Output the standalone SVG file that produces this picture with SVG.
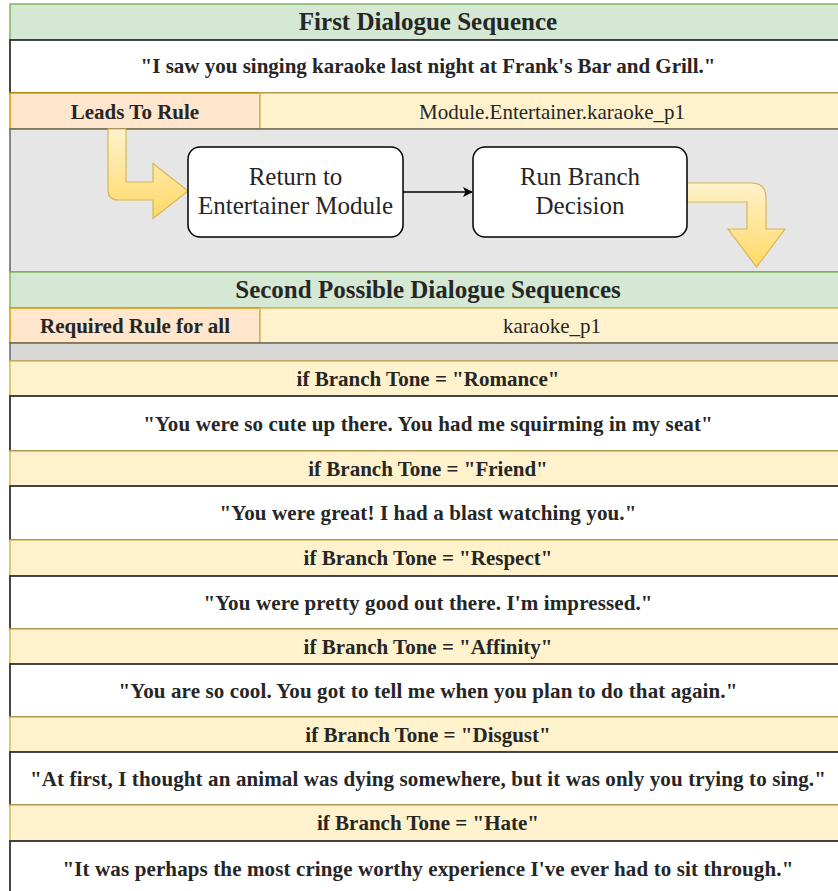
<svg xmlns="http://www.w3.org/2000/svg" width="838" height="891" viewBox="0 0 838 891">
<style>
text{font-family:"Liberation Serif","Times New Roman",serif;fill:#262626;text-anchor:middle}
.t{font-size:25px;font-weight:bold}
.b{font-size:21px;font-weight:bold}
.q{font-size:21px;font-weight:bold;letter-spacing:0.12px}
.r{font-size:21px}
.bx{font-size:25px}
.green{fill:#d5e8d4;stroke:#82b366;stroke-width:1.5}
.white{fill:#ffffff;stroke:#333;stroke-width:1.8}
.peach{fill:#ffe6cc;stroke:#d79b00;stroke-width:1.5}
.yel{fill:#fff2cc;stroke:#d6b656;stroke-width:1.5}
.gray{fill:#e6e6e6;stroke:#666666;stroke-width:1.5}
.band{fill:#d8d8d8;stroke:#666666;stroke-width:1.5}
.node{fill:#ffffff;stroke:#000;stroke-width:1.5}
.flex{fill:url(#yg);stroke:#d6b656;stroke-width:1.2}
</style>
<defs>
<linearGradient id="yg" x1="0" y1="0" x2="0" y2="1">
<stop offset="0" stop-color="#fff2cc"/>
<stop offset="1" stop-color="#ffd966"/>
</linearGradient>
<marker id="ah" viewBox="0 0 10 10" refX="9" refY="5" markerWidth="10" markerHeight="10" markerUnits="userSpaceOnUse" orient="auto">
<path d="M0,0 L10,5 L0,10 L2.5,5 Z" fill="#000"/>
</marker>
</defs>

<g id="first-title"><rect class="green" x="10" y="4" width="836" height="36"/><text class="t" x="428" y="30">First Dialogue Sequence</text></g>
<g id="first-quote"><rect class="white" x="10" y="40" width="836" height="53"/><text class="b" x="428" y="73">"I saw you singing karaoke last night at Frank's Bar and Grill."</text></g>
<g id="leads-to-rule"><rect class="peach" x="10" y="93" width="250" height="36"/><text class="b" x="135" y="118.5">Leads To Rule</text></g>
<g id="leads-rule-value"><rect class="yel" x="260" y="93" width="586" height="36"/><text class="r" x="552" y="118.5">Module.Entertainer.karaoke_p1</text></g>
<g id="flow-area"><rect class="gray" x="10" y="129" width="836" height="143"/></g>
<g id="flex-arrow-in"><path class="flex" d="M108,129 L108,190 Q108,200 118,200 L153,200 L153,218.5 L188,191 L153,163.5 L153,182 L126,182 L126,129 Z"/></g>
<g id="flex-arrow-out"><path class="flex" d="M687,183 L751,183 Q766,183 766,198 L766,229 L785,229 L756.5,267 L728,229 L747,229 L747,202 L687,202 Z"/></g>
<g id="return-node"><rect class="node" x="188" y="147" width="215" height="90" rx="12"/><text class="bx" x="295.5" y="185">Return to</text><text class="bx" x="295.5" y="213.5">Entertainer Module</text></g>
<g id="branch-node"><rect class="node" x="473" y="147" width="214" height="90" rx="12"/><text class="bx" x="580" y="185">Run Branch</text><text class="bx" x="580" y="213.5">Decision</text></g>
<g id="connectors"><line x1="403" y1="192" x2="472" y2="192" stroke="#000" stroke-width="1.5" marker-end="url(#ah)"/></g>

<g id="second-title"><rect class="green" x="10" y="272" width="836" height="36"/><text class="t" x="428" y="298">Second Possible Dialogue Sequences</text></g>
<g id="required-rule"><rect class="peach" x="10" y="308" width="250" height="35"/><text class="b" x="135" y="333">Required Rule for all</text></g>
<g id="required-rule-value"><rect class="yel" x="260" y="308" width="586" height="35"/><text class="r" x="552" y="333">karaoke_p1</text></g>
<g id="separator"><rect class="band" x="10" y="343" width="836" height="18"/></g>

<g id="romance-cond"><rect class="yel" x="10" y="361" width="836" height="35"/><text class="b" x="428" y="386">if Branch Tone = "Romance"</text></g>
<g id="romance-line"><rect class="white" x="10" y="396" width="836" height="55"/><text class="q" x="428" y="431">"You were so cute up there. You had me squirming in my seat"</text></g>
<g id="friend-cond"><rect class="yel" x="10" y="451" width="836" height="35"/><text class="b" x="428" y="476">if Branch Tone = "Friend"</text></g>
<g id="friend-line"><rect class="white" x="10" y="486" width="836" height="54"/><text class="q" x="428" y="520">"You were great! I had a blast watching you."</text></g>
<g id="respect-cond"><rect class="yel" x="10" y="540" width="836" height="36"/><text class="b" x="428" y="565">if Branch Tone = "Respect"</text></g>
<g id="respect-line"><rect class="white" x="10" y="576" width="836" height="53"/><text class="q" x="428" y="610">"You were pretty good out there. I'm impressed."</text></g>
<g id="affinity-cond"><rect class="yel" x="10" y="629" width="836" height="35"/><text class="b" x="428" y="654">if Branch Tone = "Affinity"</text></g>
<g id="affinity-line"><rect class="white" x="10" y="664" width="836" height="53"/><text class="q" x="428" y="698">"You are so cool. You got to tell me when you plan to do that again."</text></g>
<g id="disgust-cond"><rect class="yel" x="10" y="717" width="836" height="35"/><text class="b" x="428" y="742">if Branch Tone = "Disgust"</text></g>
<g id="disgust-line"><rect class="white" x="10" y="752" width="836" height="53"/><text class="q" x="428" y="786">"At first, I thought an animal was dying somewhere, but it was only you trying to sing."</text></g>
<g id="hate-cond"><rect class="yel" x="10" y="805" width="836" height="36"/><text class="b" x="428" y="830">if Branch Tone = "Hate"</text></g>
<g id="hate-line"><rect class="white" x="10" y="841" width="836" height="60"/><text class="q" x="428" y="876">"It was perhaps the most cringe worthy experience I've ever had to sit through."</text></g>
</svg>
